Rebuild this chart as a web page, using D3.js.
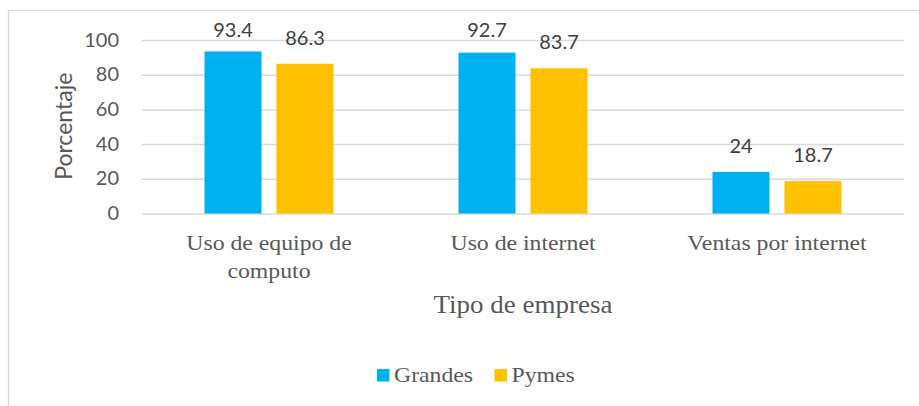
<!DOCTYPE html>
<html>
<head>
<meta charset="utf-8">
<title>Tipo de empresa</title>
<script src="https://d3js.org/d3.v7.min.js"></script>
<style>
  body { margin: 0; background: #fff; }
  .serif { font-family: "Liberation Serif", Tinos, "Times New Roman", Times, "DejaVu Serif", serif; }
  .sans { font-family: Lato, "Open Sans", sans-serif; }
</style>
</head>
<body>
<div id="chart"></div>
<script>
// datos
const categorias = [["Uso de equipo de", "computo"], ["Uso de internet"], ["Ventas por internet"]];
const series = ["Grandes", "Pymes"];
const grandes = [93.4, 92.7, 24];
const pymes = [86.3, 83.7, 18.7];
const ticks = [0, 20, 40, 60, 80, 100];
const colores = ["#00B0F0", "#FFC000"];

const W = 919, H = 406;
const margin = {top: 40, right: 15, bottom: 192.5, left: 142};
const w = W - margin.left - margin.right;
const h = H - margin.top - margin.bottom;
const sx = 1.08; // el original esta un poco estirado a lo ancho

const svg = d3.select("#chart").append("svg")
    .attr("width", W).attr("height", H);

// marco del grafico
svg.append("rect")
    .attr("x", 8.5).attr("y", 10.5)
    .attr("width", W).attr("height", H)
    .attr("fill", "none").attr("stroke", "#d9d9d9").attr("stroke-width", 1.3);

const g = svg.append("g").attr("transform", "translate(" + margin.left + "," + margin.top + ")");

const x0 = d3.scaleBand().domain(d3.range(categorias.length)).range([0, w]);
const x1 = d3.scaleBand().domain(series).range([0, x0.bandwidth()])
    .paddingInner(0.208).paddingOuter(0.868);
const y = d3.scaleLinear().domain([0, 100]).range([h, 0]);

function texto(sel, x, yy, anchor) {
    return sel.append("text")
        .attr("transform", "translate(" + x + "," + yy + ") scale(" + sx + ",1)")
        .attr("text-anchor", anchor || "middle");
}

// lineas de division
const yAxis = d3.axisLeft(y).tickValues(ticks).tickSize(-w).tickFormat(d3.format("d"));
const ag = g.append("g").call(yAxis);
ag.select(".domain").remove();
ag.selectAll(".tick line").attr("stroke", "#d9d9d9").attr("stroke-width", 1.5);
ag.selectAll(".tick text").remove();
ticks.forEach(function(t) {
    texto(g, -23, y(t), "end")
        .attr("class", "sans")
        .attr("dy", "0.36em")
        .attr("font-size", "18.5px")
        .attr("fill", "#595959")
        .text(t);
});

// barras
const datos = [grandes, pymes];
const grupos = g.selectAll(".grupo")
    .data(categorias.map(function(c, i) { return i; }))
    .enter().append("g")
    .attr("transform", function(i) { return "translate(" + x0(i) + ",0)"; });

grupos.selectAll("rect")
    .data(function(i) { return series.map(function(s, k) { return {s: s, k: k, v: datos[k][i]}; }); })
    .enter().append("rect")
    .attr("x", function(d) { return x1(d.s); })
    .attr("y", function(d) { return y(d.v); })
    .attr("width", x1.bandwidth())
    .attr("height", function(d) { return h - y(d.v); })
    .attr("fill", function(d) { return colores[d.k]; });

// etiquetas de valor
grupos.each(function(i) {
    const grp = d3.select(this);
    series.forEach(function(s, k) {
        const v = datos[k][i];
        texto(grp, x1(s) + x1.bandwidth() / 2, Math.max(y(v) - 19, -3))
            .attr("class", "sans")
            .attr("font-size", "18.5px")
            .attr("fill", "#404040")
            .text(v);
    });
});

// etiquetas de categoria
categorias.forEach(function(lineas, i) {
    lineas.forEach(function(l, j) {
        texto(g, x0(i) + x0.bandwidth() / 2, h + 36.5 + j * 27.5)
            .attr("class", "serif")
            .attr("font-size", "22px")
            .attr("fill", "#595959")
            .text(l);
    });
});

// titulos de ejes
texto(g, w / 2, h + 99.5)
    .attr("class", "serif")
    .attr("font-size", "25px")
    .attr("fill", "#595959")
    .text("Tipo de empresa");

svg.append("text")
    .attr("class", "sans")
    .attr("transform", "translate(72," + (margin.top + h / 2 - 0.5) + ") rotate(-90)")
    .attr("text-anchor", "middle")
    .attr("font-size", "23px")
    .attr("fill", "#595959")
    .text("Porcentaje");

// leyenda
const ley = svg.append("g").attr("transform", "translate(377,382)");
const pos = [0, 117.5];
series.forEach(function(s, k) {
    ley.append("rect")
        .attr("x", pos[k]).attr("y", -13)
        .attr("width", 12.5).attr("height", 12.5)
        .attr("fill", colores[k]);
    texto(ley, pos[k] + 17, 0, "start")
        .attr("class", "serif")
        .attr("font-size", "22px")
        .attr("fill", "#595959")
        .text(s);
});
</script>
</body>
</html>
